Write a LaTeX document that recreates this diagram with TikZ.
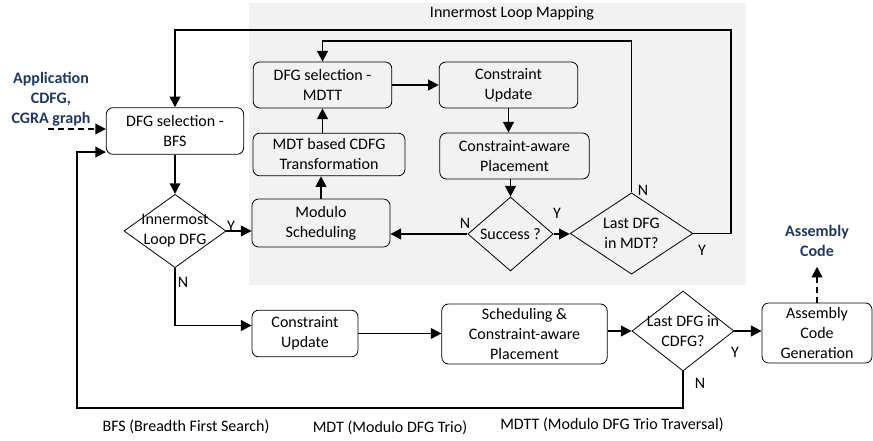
\documentclass[tikz,border=0pt]{standalone}
\usepackage{fontspec}
\setmainfont{Carlito}
\usetikzlibrary{arrows.meta, shapes.geometric}
\definecolor{darkblue}{RGB}{31,56,100}

\begin{document}
\begin{tikzpicture}[
        x=0.75pt, y=-0.75pt,
        every node/.style = {font=\fontsize{12pt}{15pt}\selectfont},
        box/.style = {draw, black, line width=0.6pt, rounded corners=5pt, align=center, inner sep=2pt},
        dec/.style = {draw, black, line width=0.6pt, diamond, inner sep=0pt},
        arrow/.style = {line width=1.4pt, -{Triangle[length=8pt, width=8pt]}},
        note/.style = {font=\fontsize{12pt}{15pt}\selectfont\bfseries, text=darkblue, align=center}
    ]
        \useasboundingbox (0,0) rectangle (873,441);
        \fill[black!5] (249,3) rectangle (746,285);
        \node (title) at (512,13) {Innermost Loop Mapping};

        \node[note] (app) at (51,99) {Application\\CDFG,\\CGRA graph};
        \node[box, minimum width=103pt, minimum height=35pt] (bfs) at (175,131) {DFG selection -\\BFS};
        \node[dec, minimum width=76.5pt, minimum height=55pt,
            label={[align=center]center:{Innermost\\Loop DFG}}] (inner) at (175,231) {};
        \node[box, minimum width=104pt, minimum height=34.5pt] (mdtt) at (322.5,85) {DFG selection -\\MDTT};
        \node[box, minimum width=114pt, minimum height=32pt] (trans) at (329,154.5) {MDT based CDFG\\Transformation};
        \node[box, minimum width=103.5pt, minimum height=36pt] (modulo) at (321,223) {Modulo\\Scheduling};
        \node[box, minimum width=104pt, minimum height=34.5pt] (cuin) at (508.5,85) {Constraint\\Update};
        \node[box, minimum width=112pt, minimum height=34.5pt] (placein) at (514.5,156) {Constraint-aware\\Placement};
        \node[dec, minimum width=64pt, minimum height=55.5pt,
            label={center:Success ?}] (success) at (510.5,234) {};
        \node[dec, minimum width=92pt, minimum height=61pt,
            label={[align=center]center:{Last DFG\\in MDT?}}] (lastmdt) at (631.5,233.5) {};
        \node[box, minimum width=79.5pt, minimum height=35pt] (cuout) at (305,333.5) {Constraint\\Update};
        \node[box, minimum width=124pt, minimum height=45pt] (schedout) at (524.5,334) {Scheduling \&\\Constraint-aware\\Placement};
        \node[dec, minimum width=76.5pt, minimum height=60pt,
            label={[align=center]center:{Last DFG in\\CDFG?}}] (lastcdfg) at (683,331) {};
        \node[box, minimum width=82.5pt, minimum height=45pt] (asm) at (817,333) {Assembly\\Code\\Generation};
        \node[note] (code) at (817,241) {Assembly\\Code};

        % branch labels
        \node (yinner) at (231,226) {Y};
        \node (ninner) at (183,282) {N};
        \node (nsucc) at (465,223) {N};
        \node (ysucc) at (557,213) {Y};
        \node (nmdt) at (643,190) {N};
        \node (ymdt) at (702,250) {Y};
        \node (ycdfg) at (735,352) {Y};
        \node (ncdfg) at (700,383) {N};

        % abbreviations
        \node (bfsnote) at (186,427) {BFS (Breadth First Search)};
        \node (mdtnote) at (390,428) {MDT (Modulo DFG Trio)};
        \node (mdttnote) at (612,425) {MDTT (Modulo DFG Trio Traversal)};

        \coordinate (outtop) at (731,30);
        \coordinate (intop) at (500,41);
        \coordinate (appin) at (48,129);
        \coordinate (retbot) at (77,408);

        \draw[arrow] (lastmdt.east) -| (outtop) -| (bfs.north);
        \draw[arrow] (lastmdt.north) |- (intop) -| (mdtt.north);
        \draw[arrow, dash pattern=on 4.5pt off 3pt] (appin) -- (appin -| bfs.west);
        \draw[arrow] (lastcdfg.south) |- (retbot) |- ([yshift=2pt]bfs.south west);
        \draw[arrow] (bfs) -- (inner);
        \draw[arrow] (inner.east) -- (inner.east -| modulo.west);
        \draw[arrow] (success.west) -- (success.west -| modulo.east);
        \draw[arrow] (success.east) -- (success.east -| lastmdt.west);
        \draw[arrow] (modulo.north) -- (modulo.north |- trans.south);
        \draw[arrow] (mdtt.south |- trans.north) -- (mdtt.south);
        \draw[arrow] (mdtt) -- (cuin);
        \draw[arrow] (cuin.south) -- (cuin.south |- placein.north);
        \draw[arrow] (success.north |- placein.south) -- (success.north);
        \draw[arrow] (inner.south) |- ([yshift=6pt]cuout.west);
        \draw[arrow] (cuout.east) -- (cuout.east -| schedout.west);
        \draw[arrow] (schedout.east |- lastcdfg.west) -- (lastcdfg.west);
        \draw[arrow] (lastcdfg.east) -- (lastcdfg.east -| asm.west);
        \draw[arrow, dash pattern=on 4.5pt off 3pt] (asm.north) -- ([yshift=-4pt]code.south);
    \end{tikzpicture}
\end{document}
